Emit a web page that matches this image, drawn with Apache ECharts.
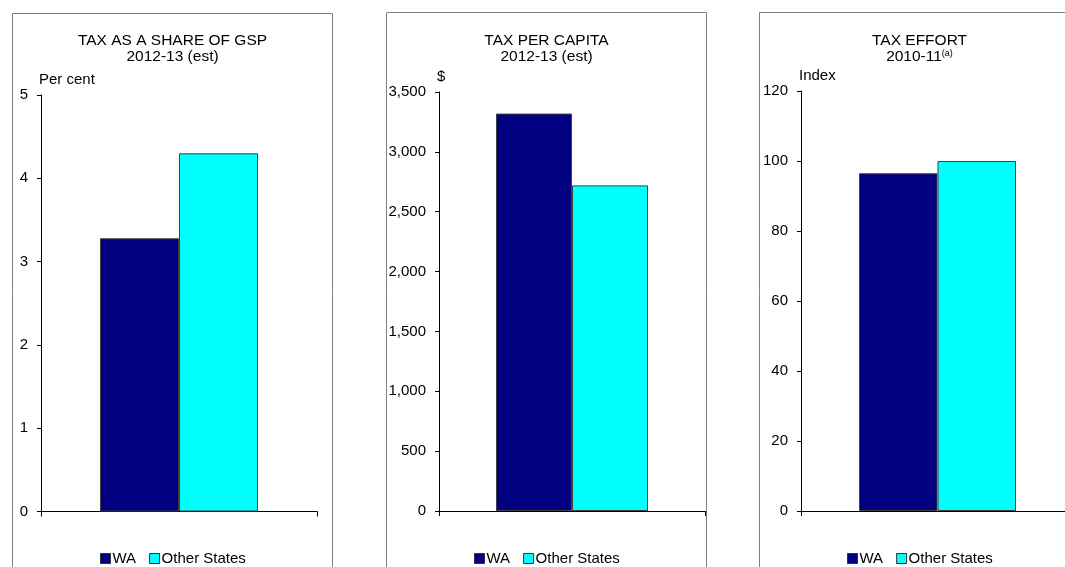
<!DOCTYPE html>
<html>
<head>
<meta charset="utf-8">
<script src="https://cdn.jsdelivr.net/npm/echarts@6/dist/echarts.min.js"></script>
<style>
html,body{margin:0;padding:0;background:#fff;}
#c{width:1065px;height:567px;}
</style>
</head>
<body>
<div id="c"></div>
<script>
// ---- data ----
const seriesNames = ['WA', 'Other States'];
const seriesColors = ['#000080', '#00FFFF'];
const gspShare = [3.28, 4.30];        // per cent of GSP, 2012-13 (est)
const taxPerCapita = [3320, 2720];    // $, 2012-13 (est)
const taxEffort = [96.5, 100];        // index, 2010-11
const panelTitles = [
  'TAX AS A SHARE OF GSP\n2012-13 (est)',
  'TAX PER CAPITA\n2012-13 (est)',
  '{t|TAX EFFORT}\n{t|2010-11}{s|(a)}'
];
const axisNames = ['Per cent', '$', 'Index'];
const axisMax = [5, 3500, 120];
const axisInterval = [1, 500, 20];
const panelValues = [gspShare, taxPerCapita, taxEffort];

// ---- layout ----
const FONT = "'Liberation Sans', Arial, sans-serif";
const grids = [
  {left: 41, width: 276, top: 95, height: 416.5},
  {left: 439, width: 266, top: 92, height: 419},
  {left: 801, width: 273, top: 91, height: 420}
];
const panels = [
  {x: 12.5, y: 13.5, w: 320},
  {x: 386.5, y: 12.5, w: 320},
  {x: 759.5, y: 12.5, w: 320}
];
const barWidths = [79, 76, 78.5];
const legendLefts = [100, 474, 847];

const fmt = v => v.toLocaleString('en-US');

const option = {
  animation: false,
  backgroundColor: '#fff',
  textStyle: {fontFamily: FONT, color: '#000'},
  grid: grids.map(g => Object.assign({containLabel: false, outerBoundsMode: 'none'}, g)),
  title: panelTitles.map((t, i) => ({
    text: t,
    left: panels[i].x + panels[i].w / 2,
    top: 32,
    padding: 0,
    textAlign: 'center',
    textStyle: {
      fontFamily: FONT, fontSize: 15.5, fontWeight: 'normal', color: '#000', lineHeight: 16.5,
      rich: {
        t: {fontFamily: FONT, fontSize: 15.5, color: '#000', lineHeight: 16.5},
        s: {fontFamily: FONT, fontSize: 9, color: '#000', lineHeight: 16.5, padding: [0, 0, 7, 0]}
      }
    }
  })),
  legend: legendLefts.map(l => ({
    data: seriesNames,
    left: l,
    top: 551,
    padding: 0,
    orient: 'horizontal',
    itemWidth: 10,
    itemHeight: 10,
    itemGap: 13,
    icon: 'rect',
    selectedMode: false,
    itemStyle: {borderColor: '#333', borderWidth: 1},
    textStyle: {fontFamily: FONT, fontSize: 15, color: '#000', padding: [0, 0, 0, -3]}
  })),
  xAxis: grids.map((g, i) => ({
    type: 'category',
    gridIndex: i,
    data: [''],
    axisLine: {lineStyle: {color: '#000', width: 1}},
    axisTick: {show: true, length: 5, lineStyle: {color: '#000'}},
    axisLabel: {show: false},
    splitLine: {show: false}
  })),
  yAxis: grids.map((g, i) => ({
    type: 'value',
    gridIndex: i,
    min: 0,
    max: axisMax[i],
    interval: axisInterval[i],
    name: axisNames[i],
    nameLocation: 'end',
    nameGap: 8,
    nameTextStyle: {fontFamily: FONT, fontSize: 15, color: '#000', align: 'left', padding: [0, 0, 0, -2]},
    axisLine: {show: true, lineStyle: {color: '#000', width: 1}},
    axisTick: {show: true, length: 4, lineStyle: {color: '#000'}},
    axisLabel: {fontFamily: FONT, fontSize: 15, color: '#000', margin: 13, formatter: fmt},
    splitLine: {show: false}
  })),
  series: [],
  graphic: panels.map(p => ({
    type: 'rect',
    silent: true,
    z: -1,
    shape: {x: p.x, y: p.y, width: p.w, height: 700},
    style: {fill: 'none', stroke: '#808080', lineWidth: 1}
  }))
};

panelValues.forEach((vals, i) => {
  seriesNames.forEach((name, k) => {
    option.series.push({
      type: 'bar',
      name: name,
      xAxisIndex: i,
      yAxisIndex: i,
      data: [vals[k]],
      barWidth: barWidths[i],
      barGap: '0%',
      itemStyle: {color: seriesColors[k], borderColor: '#404040', borderWidth: 1}
    });
  });
});

const chart = echarts.init(document.getElementById('c'), null, {renderer: 'canvas'});
chart.setOption(option);
</script>
</body>
</html>
